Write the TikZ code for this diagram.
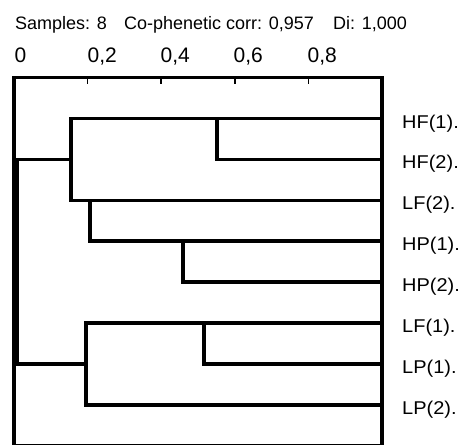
\documentclass[tikz,border=0pt]{standalone}
\usepackage{fontspec}
\setmainfont{Liberation Sans}
\newfontfamily\leaffont[FakeStretch=1.08]{Liberation Sans}
\begin{document}
\begin{tikzpicture}[x=1pt,y=-1pt,
  branch/.style={line width=3.5pt,line cap=rect,line join=miter},
  framebox/.style={line width=3.2pt,line join=miter},
  tick/.style={line width=1.4pt},
  headtext/.style={anchor=base west,inner sep=0pt,font=\fontsize{18}{18}\selectfont},
  scaletext/.style={anchor=base west,inner sep=0pt,font=\fontsize{21}{21}\selectfont},
  leaftext/.style={anchor=base west,inner sep=0pt,font=\leaffont\fontsize{18.5}{18.5}\selectfont}]
  \fill[white] (0,0) rectangle (460,444);
  \useasboundingbox (0,0) rectangle (460,444);

  % header line
  \node[headtext] (hs) at (15,29.5) {Samples: 8};
  \node[headtext] (hc) at (124,29.5) {Co-phenetic corr: 0,957};
  \node[headtext] (hd) at (333,29.5) {Di: 1,000};

  % similarity scale
  \node[scaletext] (s0) at (14.5,63) {0};
  \node[scaletext] (s2) at (87.5,63) {0,2};
  \node[scaletext] (s4) at (160.5,63) {0,4};
  \node[scaletext] (s6) at (233.5,63) {0,6};
  \node[scaletext] (s8) at (307.5,63) {0,8};

  % plot frame (its lower edge runs along the bottom margin) and ticks
  \draw[framebox] (14,77.5) rectangle (382,445.3);
  \foreach \tx in {87.5,161,235,308.5}
    \draw[tick] (\tx,77.5) -- (\tx,84);

  % leaf ends on the right frame and leaf labels
  \foreach \i/\yy/\lab in {1/118.5/HF(1).,2/159.4/HF(2).,3/200.3/LF(2).,4/241.2/HP(1).,
                           5/282.1/HP(2).,6/323/LF(1).,7/363.9/LP(1).,8/404.8/LP(2).}{
    \coordinate (e\i) at (382,\yy);
    \node[leaftext] (l\i) at (402,\yy+9.5) {\lab};
  }

  % join points
  \coordinate (a1) at (71,118.5);   \coordinate (a3) at (71,200.3);   \coordinate (a2) at (71,159.4);
  \coordinate (b1) at (217,118.5);  \coordinate (b2) at (217,159.4);
  \coordinate (c3) at (90,200.3);   \coordinate (c4) at (90,241.2);
  \coordinate (d4) at (183,241.2);  \coordinate (d5) at (183,282.1);
  \coordinate (f6) at (86,323);     \coordinate (f7) at (86,363.9);   \coordinate (f8) at (86,404.8);
  \coordinate (g6) at (204,323);    \coordinate (g7) at (204,363.9);
  \coordinate (r1) at (17,159.4);   \coordinate (r2) at (17,363.9);

  % upper group
  \draw[branch] (e1) -- (a1) -- (a3) -- (e3);
  \draw[branch] (b1) -- (b2) -- (e2);
  \draw[branch] (c3) -- (c4) -- (e4);
  \draw[branch] (d4) -- (d5) -- (e5);
  % lower group
  \draw[branch] (e6) -- (f6) -- (f8) -- (e8);
  \draw[branch] (g6) -- (g7) -- (e7);
  % root
  \draw[branch] (a2) -- (r1) -- (r2) -- (f7);
\end{tikzpicture}
\end{document}
